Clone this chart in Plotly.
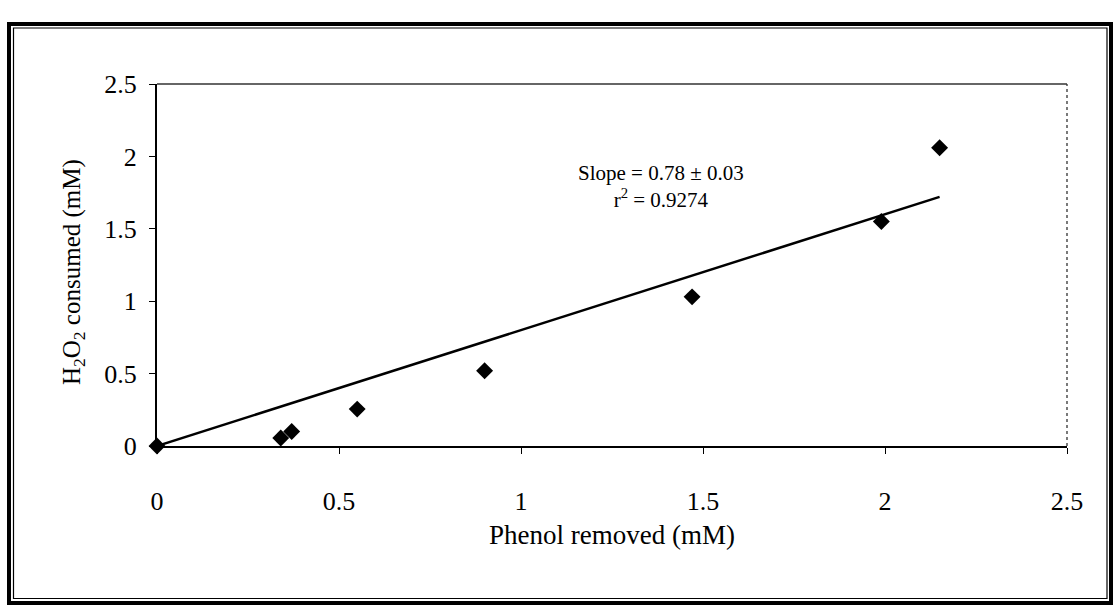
import numpy as np
import plotly.graph_objects as go

# Data
phenol_removed = [0.0, 0.34, 0.37, 0.55, 0.90, 1.47, 1.99, 2.15]
h2o2_consumed = [0.0, 0.055, 0.10, 0.255, 0.52, 1.03, 1.55, 2.06]
x_ticks = [0, 0.5, 1, 1.5, 2, 2.5]
y_ticks = [0, 0.5, 1, 1.5, 2, 2.5]
x_tick_labels = ["0", "0.5", "1", "1.5", "2", "2.5"]
y_tick_labels = ["0", "0.5", "1", "1.5", "2", "2.5"]
x_title = "Phenol removed (mM)"
y_title = "H<sub>2</sub>O<sub>2</sub> consumed (mM)"
annotation_lines = ["Slope = 0.78 \u00b1 0.03", "r<sup>2</sup> = 0.9274"]

# Linear fit through the origin
xa = np.array(phenol_removed)
ya = np.array(h2o2_consumed)
slope = float((xa * ya).sum() / (xa * xa).sum())
fit_x = [0.0, float(xa.max())]
fit_y = [0.0, slope * float(xa.max())]

W, H = 1114, 610
L, R, T, B = 157, 1067, 84, 446
FONT = "Liberation Serif, Times New Roman, serif"

fig = go.Figure()
fig.add_trace(go.Scatter(x=fit_x, y=fit_y, mode="lines",
                         line=dict(color="black", width=2.5),
                         showlegend=False, hoverinfo="skip"))
fig.add_trace(go.Scatter(x=phenol_removed, y=h2o2_consumed, mode="markers",
                         marker=dict(symbol="diamond", size=13, color="black"),
                         showlegend=False, cliponaxis=False))


def px(xp):
    return (xp - L) / (R - L)


def py(yp):
    return (B - yp) / (B - T)


shapes = [
    dict(type="line", xref="paper", yref="paper", x0=0, y0=1, x1=1, y1=1,
         line=dict(color="#333", width=1.3), layer="below"),
    dict(type="line", xref="paper", yref="paper", x0=1, y0=0, x1=1, y1=1,
         line=dict(color="#333", width=1.3, dash="dot"), layer="below"),
    dict(type="rect", xref="paper", yref="paper",
         x0=px(9), x1=px(1111), y0=py(603), y1=py(24),
         line=dict(color="black", width=4)),
    dict(type="rect", xref="paper", yref="paper",
         x0=px(13.5), x1=px(1107), y0=py(598.5), y1=py(28),
         line=dict(color="black", width=1.2)),
]

fig.add_annotation(x=1.385, y=1.79, xref="x", yref="y",
                   text="<br>".join(annotation_lines), showarrow=False,
                   font=dict(family=FONT, size=21, color="black"),
                   align="center", xanchor="center", yanchor="middle")
fig.add_annotation(x=0.5, y=py(535), xref="paper", yref="paper",
                   text=x_title, showarrow=False,
                   xanchor="center", yanchor="middle",
                   font=dict(family=FONT, size=27, color="black"))
fig.add_annotation(x=px(73), y=py(272), xref="paper", yref="paper",
                   text=y_title, showarrow=False, textangle=-90,
                   xanchor="center", yanchor="middle",
                   font=dict(family=FONT, size=25, color="black"))

axis_common = dict(showgrid=False, zeroline=False, showline=True,
                   linecolor="black", linewidth=2, ticks="outside",
                   tickcolor="black", ticklen=6, tickwidth=1,
                   tickfont=dict(family=FONT, size=26, color="black"))

fig.update_xaxes(range=[0, 2.5], tickvals=x_ticks, ticktext=x_tick_labels,
                 ticklabelstandoff=25, **axis_common)
fig.update_yaxes(range=[0, 2.5], tickvals=y_ticks, ticktext=y_tick_labels,
                 ticklabelstandoff=7, **axis_common)

fig.update_layout(width=W, height=H,
                  margin=dict(l=L, r=W - R, t=T, b=H - B),
                  paper_bgcolor="white", plot_bgcolor="white",
                  shapes=shapes, showlegend=False)

fig.write_html("out.html")
